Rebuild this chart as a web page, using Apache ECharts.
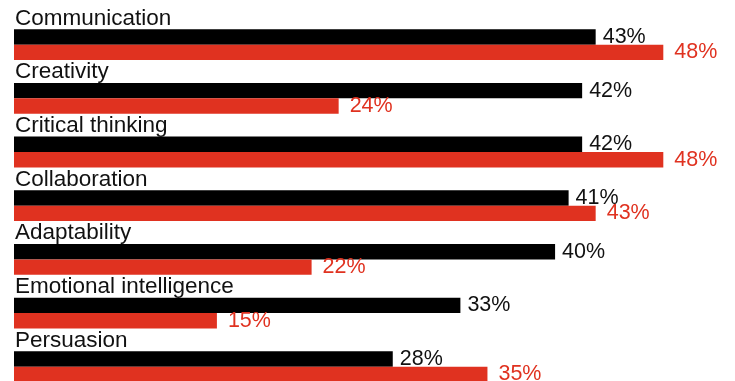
<!DOCTYPE html>
<html>
<head>
<meta charset="utf-8">
<script src="https://cdn.jsdelivr.net/npm/echarts@6/dist/echarts.min.js"></script>
<style>
  html, body { margin: 0; padding: 0; background: #fff; }
  #chart { width: 735px; height: 381px; }
</style>
</head>
<body>
<div id="chart"></div>
<script>
// Skills, top to bottom
const skills = [
  'Communication',
  'Creativity',
  'Critical thinking',
  'Collaboration',
  'Adaptability',
  'Emotional intelligence',
  'Persuasion'
];
// Black series (%)
const blackValues = [43, 42, 42, 41, 40, 33, 28];
// Red series (%)
const redValues = [48, 24, 48, 43, 22, 15, 35];

const FONT = '"Liberation Sans", Arial, Helvetica, sans-serif';
const RED = '#e03220';

const chart = echarts.init(document.getElementById('chart'), null, { renderer: 'canvas' });

chart.setOption({
  animation: false,
  backgroundColor: '#ffffff',
  grid: {
    left: 14,
    right: 0,
    top: 17.8,
    bottom: -12.6,
    containLabel: false,
    outerBoundsMode: 'none'
  },
  xAxis: {
    type: 'value',
    min: 0,
    max: 53.3,
    show: false
  },
  yAxis: {
    type: 'category',
    data: skills,
    inverse: true,
    show: false
  },
  series: [
    {
      type: 'bar',
      data: blackValues,
      barWidth: 15.4,
      barGap: '0%',
      itemStyle: { color: '#000000' },
      label: {
        show: true,
        position: 'right',
        distance: 7,
        formatter: '{c}%',
        color: '#111',
        fontFamily: FONT,
        fontSize: 21.5
      }
    },
    {
      type: 'bar',
      data: redValues,
      barWidth: 15.4,
      barGap: '0%',
      itemStyle: { color: RED },
      label: {
        show: true,
        position: 'right',
        distance: 11,
        formatter: '{c}%',
        color: RED,
        fontFamily: FONT,
        fontSize: 21.5
      }
    },
    {
      // Skill names written above each pair of bars
      type: 'scatter',
      data: skills.map(function (s) { return [0, s]; }),
      symbolSize: 0,
      silent: true,
      z: 10,
      itemStyle: { opacity: 1 },
      label: {
        show: true,
        position: 'right',
        distance: 0,
        offset: [1, -26.3],
        formatter: function (p) { return p.value[1]; },
        color: '#111',
        opacity: 1,
        fontFamily: FONT,
        fontSize: 22.5
      }
    }
  ]
});
</script>
</body>
</html>
